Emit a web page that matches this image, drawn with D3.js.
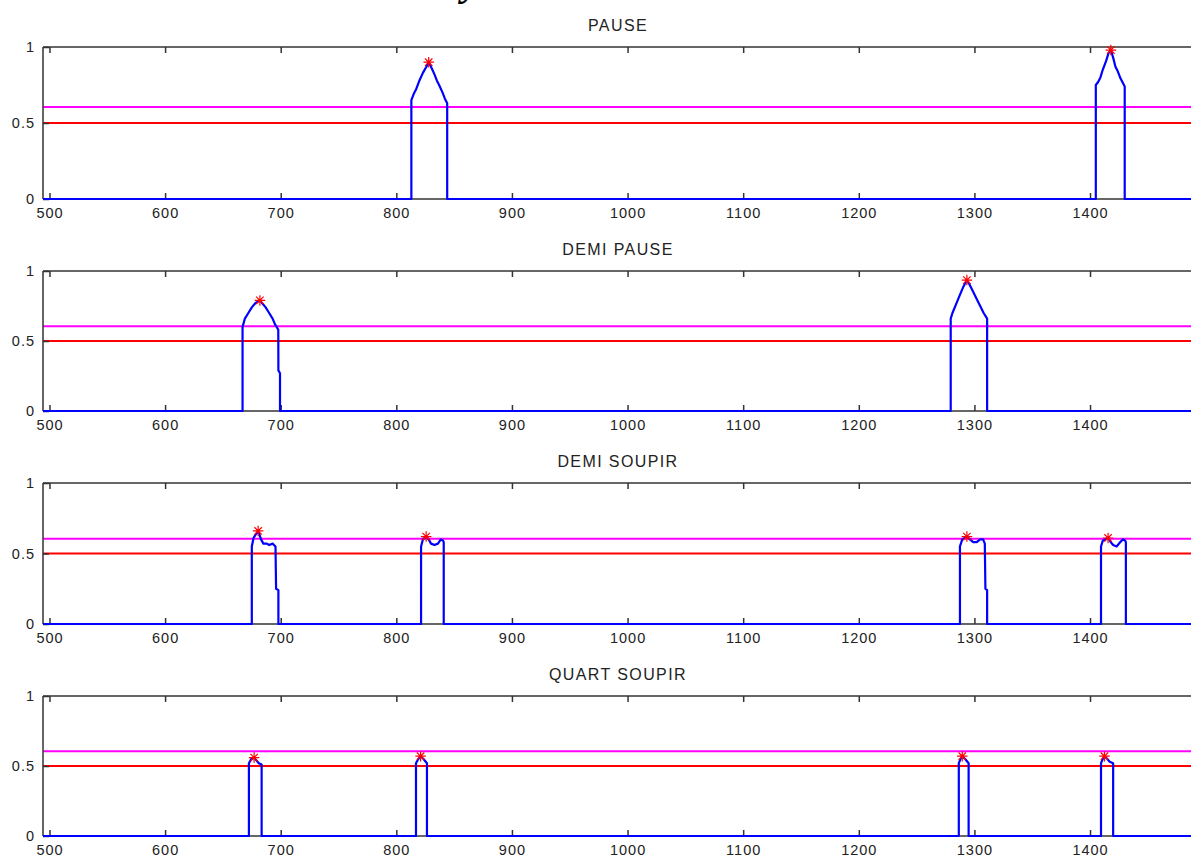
<!DOCTYPE html>
<html>
<head>
<meta charset="utf-8">
<script src="https://cdn.jsdelivr.net/npm/d3@7"></script>
<style>
  html, body { margin: 0; padding: 0; background: #fff; }
  svg { display: block; }
  text { font-family: "Liberation Sans", Arial, sans-serif; fill: #222; }
</style>
</head>
<body>
<svg id="chart" width="1191" height="860"></svg>
<script>
// ---------- data ----------
const titles = ["PAUSE", "DEMI PAUSE", "DEMI SOUPIR", "QUART SOUPIR"];
const xTicks = [500, 600, 700, 800, 900, 1000, 1100, 1200, 1300, 1400];
const yTicks = [0, 0.5, 1];
const xDomain = [494.4, 1488.2];
const thresholdLow = 0.5;   // red
const thresholdHigh = 0.605; // magenta

// each peak: x values and y values (between rise and fall)
const pausePeaks = [
  { x: [813, 815, 817, 820, 823, 826, 828, 830, 833, 835, 837, 840, 842, 844],
    y: [0.65, 0.69, 0.72, 0.78, 0.83, 0.87, 0.90, 0.87, 0.82, 0.78, 0.75, 0.70, 0.66, 0.63] },
  { x: [1405, 1407, 1409, 1411, 1414, 1416, 1418, 1420, 1422, 1424, 1426, 1428, 1430],
    y: [0.75, 0.77, 0.80, 0.85, 0.91, 0.96, 0.98, 0.93, 0.87, 0.84, 0.80, 0.77, 0.74] }
];
const demiPausePeaks = [
  { x: [667, 669, 672, 675, 678, 682, 684, 687, 690, 693, 695, 696.5, 697.9, 698, 699.4],
    y: [0.60, 0.66, 0.70, 0.74, 0.77, 0.79, 0.77, 0.74, 0.70, 0.66, 0.62, 0.60, 0.58, 0.29, 0.27] },
  { x: [1279.5, 1281, 1284, 1287, 1290, 1293.5, 1296, 1299, 1302, 1305, 1308, 1311],
    y: [0.66, 0.70, 0.76, 0.82, 0.88, 0.935, 0.90, 0.85, 0.80, 0.75, 0.70, 0.66] }
];
const demiSoupirPeaks = [
  { x: [675, 676.5, 678, 680.5, 683, 685, 688, 690, 693, 695.5, 696, 698],
    y: [0.55, 0.61, 0.63, 0.66, 0.60, 0.57, 0.57, 0.56, 0.57, 0.55, 0.25, 0.24] },
  { x: [821.4, 823, 825.8, 828, 830, 833, 836, 838.5, 840.5, 841],
    y: [0.55, 0.60, 0.62, 0.60, 0.57, 0.56, 0.57, 0.60, 0.59, 0.58] },
  { x: [1287.5, 1289.5, 1293.5, 1296, 1299, 1302, 1305, 1307.5, 1309, 1309.5, 1311],
    y: [0.55, 0.60, 0.62, 0.60, 0.58, 0.58, 0.60, 0.60, 0.57, 0.25, 0.24] },
  { x: [1409.5, 1411, 1415.6, 1418, 1420, 1423, 1426, 1428.5, 1430.5, 1431],
    y: [0.55, 0.59, 0.61, 0.58, 0.56, 0.55, 0.58, 0.60, 0.59, 0.58] }
];
const quartSoupirPeaks = [
  { x: [672.5, 674.5, 677, 679, 681, 683.5],
    y: [0.52, 0.55, 0.56, 0.54, 0.52, 0.51] },
  { x: [817, 819, 821, 823.5, 826.5],
    y: [0.52, 0.55, 0.57, 0.55, 0.52] },
  { x: [1286.5, 1288, 1289.5, 1292, 1295],
    y: [0.52, 0.55, 0.57, 0.55, 0.52] },
  { x: [1409.5, 1411, 1412.5, 1415, 1417, 1420],
    y: [0.52, 0.55, 0.57, 0.55, 0.53, 0.52] }
];
const allPeaks = [pausePeaks, demiPausePeaks, demiSoupirPeaks, quartSoupirPeaks];

// ---------- layout ----------
const svg = d3.select("#chart");
const left = 43, right = 1192;
const panels = [ { top: 47, bottom: 199 }, { top: 271, bottom: 411 },
                 { top: 483, bottom: 624 }, { top: 696, bottom: 836 } ];

// truncated heading glyph at very top (mostly outside the frame, as in the reference)
svg.append("text").attr("x", 462).attr("y", -5)
  .style("font-family", "'Liberation Serif', serif").style("font-weight", "bold")
  .style("font-style", "italic").style("font-size", "40px").style("fill", "#000")
  .text("y");

const x = d3.scaleLinear().domain(xDomain).range([left, right]);

panels.forEach((p, i) => {
  const y = d3.scaleLinear().domain([0, 1]).range([p.bottom, p.top]);
  const g = svg.append("g");

  // title
  g.append("text").attr("x", 618).attr("y", p.top - 16)
    .attr("text-anchor", "middle").style("font-size", "16px")
    .style("letter-spacing", "1.4px").text(titles[i]);

  // threshold lines
  g.append("line").attr("x1", left).attr("x2", right)
    .attr("y1", y(thresholdHigh)).attr("y2", y(thresholdHigh))
    .attr("stroke", "#ff00ff").attr("stroke-width", 2);
  g.append("line").attr("x1", left).attr("x2", right)
    .attr("y1", y(thresholdLow)).attr("y2", y(thresholdLow))
    .attr("stroke", "#ff0000").attr("stroke-width", 2);

  // axes frame (top, left, bottom)
  const axisColor = "#333";
  g.append("line").attr("x1", left).attr("x2", right).attr("y1", p.top).attr("y2", p.top)
    .attr("stroke", axisColor).attr("stroke-width", 1.5);
  g.append("line").attr("x1", left).attr("x2", right).attr("y1", p.bottom).attr("y2", p.bottom)
    .attr("stroke", axisColor).attr("stroke-width", 1.5);
  g.append("line").attr("x1", left).attr("x2", left).attr("y1", p.top).attr("y2", p.bottom)
    .attr("stroke", axisColor).attr("stroke-width", 1.5);

  // x ticks (inward, top and bottom)
  const bottomAxis = d3.axisBottom(x).tickValues(xTicks).tickSizeInner(-6).tickSizeOuter(0)
    .tickPadding(9).tickFormat(d3.format("d"));
  const ba = g.append("g").attr("transform", `translate(0,${p.bottom})`).call(bottomAxis);
  ba.select(".domain").remove();
  ba.selectAll(".tick line").attr("stroke", axisColor).attr("stroke-width", 1.5);
  ba.selectAll(".tick text").style("font-size", "14.5px").style("letter-spacing", "1px")
    .style("font-family", "'Liberation Sans', Arial, sans-serif").attr("fill", "#222");

  const topAxis = d3.axisTop(x).tickValues(xTicks).tickSizeInner(-6).tickSizeOuter(0).tickFormat("");
  const ta = g.append("g").attr("transform", `translate(0,${p.top})`).call(topAxis);
  ta.select(".domain").remove();
  ta.selectAll(".tick line").attr("stroke", axisColor).attr("stroke-width", 1.5);

  // y axis labels
  const leftAxis = d3.axisLeft(y).tickValues(yTicks).tickSizeInner(-6).tickSizeOuter(0)
    .tickPadding(8).tickFormat(d => d === 0.5 ? "0.5" : String(d));
  const la = g.append("g").attr("transform", `translate(${left},0)`).call(leftAxis);
  la.select(".domain").remove();
  la.selectAll(".tick line").attr("stroke", axisColor).attr("stroke-width", 1.5);
  la.selectAll(".tick text").style("font-size", "14.5px").style("letter-spacing", "1px")
    .style("font-family", "'Liberation Sans', Arial, sans-serif").attr("fill", "#222");

  // build the signal line from the peaks
  const pts = [[xDomain[0], 0]];
  const stars = [];
  allPeaks[i].forEach(pk => {
    const n = pk.x.length;
    pts.push([pk.x[0], 0]);
    pk.x.forEach((xv, k) => pts.push([xv, pk.y[k]]));
    pts.push([pk.x[n - 1], 0]);
    const mi = d3.maxIndex(pk.y);
    stars.push([pk.x[mi], pk.y[mi]]);
  });
  pts.push([xDomain[1], 0]);

  const line = d3.line().x(d => x(d[0])).y(d => y(d[1]));
  g.append("path").datum(pts).attr("d", line)
    .attr("fill", "none").attr("stroke", "#0000ff").attr("stroke-width", 2.2)
    .attr("stroke-linejoin", "round");

  // red asterisk markers at peak maxima
  const star = d3.symbol().type({
    draw(ctx, size) {
      const r = Math.sqrt(size) / 2;
      const d = r * 0.707;
      ctx.moveTo(-r, 0); ctx.lineTo(r, 0);
      ctx.moveTo(0, -r); ctx.lineTo(0, r);
      ctx.moveTo(-d, -d); ctx.lineTo(d, d);
      ctx.moveTo(-d, d); ctx.lineTo(d, -d);
    }
  }).size(110);
  g.selectAll(".star").data(stars).join("path")
    .attr("transform", d => `translate(${x(d[0])},${y(d[1])})`)
    .attr("d", star).attr("fill", "none").attr("stroke", "#ff0000").attr("stroke-width", 1.2);
});
</script>
</body>
</html>
